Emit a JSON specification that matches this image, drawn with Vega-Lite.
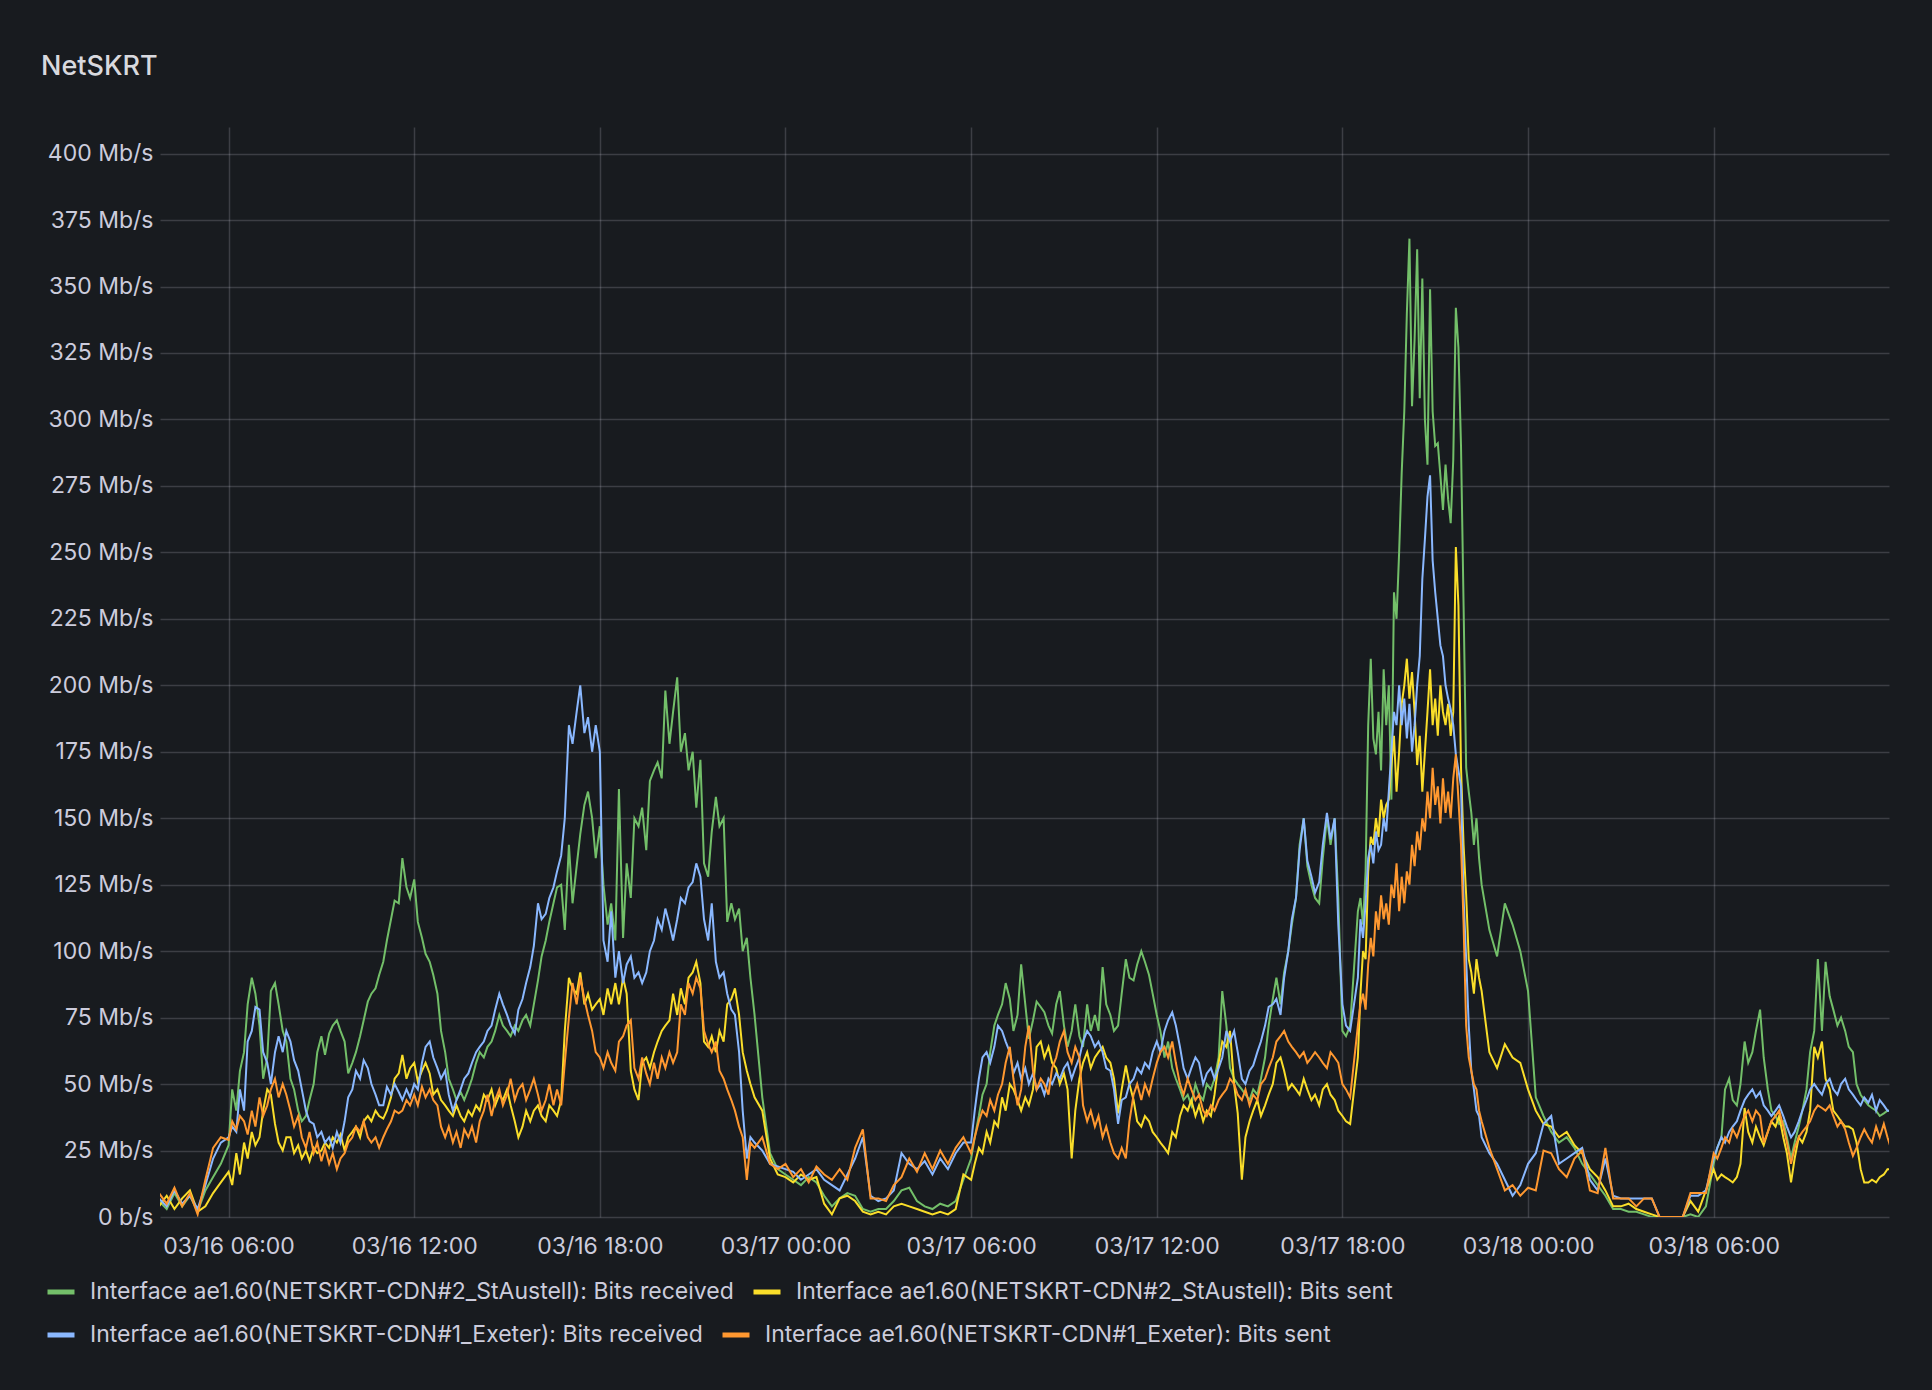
{
  "$schema": "https://vega.github.io/schema/vega-lite/v6.json",
  "description": "NetSKRT interface traffic, Grafana style time series.",
  "autosize": {"type": "none"},
  "padding": {"left": 160, "top": 127, "right": 43, "bottom": 173},
  "width": 1729,
  "height": 1090,
  "background": "#181b1f",
  "title": {
    "text": "NetSKRT",
    "anchor": "start",
    "frame": "group",
    "dx": -119,
    "offset": 25,
    "baseline": "alphabetic",
    "font": "Inter",
    "fontSize": 27,
    "fontWeight": 500,
    "color": "#d8d9de"
  },
  "config": {
    "view": {"stroke": null},
    "axis": {
      "labelFont": "Inter",
      "labelFontSize": 23,
      "labelColor": "#ccccdc",
      "domain": false,
      "ticks": false,
      "tickSize": 0,
      "gridColor": "#ccccdc",
      "gridOpacity": 0.2,
      "gridWidth": 1.5,
      "title": null
    },
    "legend": {
      "orient": "none",
      "direction": "horizontal",
      "columns": 2,
      "title": null,
      "symbolType": "stroke",
      "symbolSize": 729,
      "symbolStrokeWidth": 5,
      "labelFont": "Inter",
      "labelFontSize": 23,
      "labelColor": "#ccccdc",
      "labelLimit": 1000,
      "labelOffset": 13,
      "columnPadding": 9
    }
  },
  "data": {
    "values": [
      {"t": "2024-03-16T03:45", "g": 6, "y": 4, "b": 7, "o": 9},
      {"t": "2024-03-16T04:00", "g": 3, "y": 8, "b": 4, "o": 5},
      {"t": "2024-03-16T04:15", "g": 9, "y": 3, "b": 10, "o": 11},
      {"t": "2024-03-16T04:30", "g": 4, "y": 7, "b": 5, "o": 4},
      {"t": "2024-03-16T04:45", "g": 8, "y": 10, "b": 8, "o": 9},
      {"t": "2024-03-16T05:00", "g": 2, "y": 2, "b": 3, "o": 1},
      {"t": "2024-03-16T05:15", "g": 10, "y": 4, "b": 12, "o": 14},
      {"t": "2024-03-16T05:30", "g": 15, "y": 9, "b": 22, "o": 26},
      {"t": "2024-03-16T05:45", "g": 20, "y": 13, "b": 28, "o": 30},
      {"t": "2024-03-16T06:00", "g": 27, "y": 17, "b": 30, "o": 29},
      {"t": "2024-03-16T06:07", "g": 48, "y": 12, "b": 34, "o": 36},
      {"t": "2024-03-16T06:15", "g": 40, "y": 24, "b": 32, "o": 33},
      {"t": "2024-03-16T06:22", "g": 55, "y": 16, "b": 48, "o": 38},
      {"t": "2024-03-16T06:30", "g": 62, "y": 28, "b": 40, "o": 36},
      {"t": "2024-03-16T06:37", "g": 80, "y": 22, "b": 66, "o": 31},
      {"t": "2024-03-16T06:45", "g": 90, "y": 32, "b": 70, "o": 40},
      {"t": "2024-03-16T06:52", "g": 84, "y": 27, "b": 79, "o": 34},
      {"t": "2024-03-16T07:00", "g": 72, "y": 30, "b": 78, "o": 45},
      {"t": "2024-03-16T07:07", "g": 52, "y": 40, "b": 62, "o": 38},
      {"t": "2024-03-16T07:15", "g": 60, "y": 48, "b": 58, "o": 42},
      {"t": "2024-03-16T07:22", "g": 85, "y": 46, "b": 50, "o": 48},
      {"t": "2024-03-16T07:30", "g": 88, "y": 35, "b": 62, "o": 52},
      {"t": "2024-03-16T07:37", "g": 80, "y": 28, "b": 68, "o": 45},
      {"t": "2024-03-16T07:45", "g": 70, "y": 25, "b": 62, "o": 50},
      {"t": "2024-03-16T07:52", "g": 66, "y": 30, "b": 70, "o": 46},
      {"t": "2024-03-16T08:00", "g": 52, "y": 30, "b": 66, "o": 40},
      {"t": "2024-03-16T08:07", "g": 48, "y": 24, "b": 59, "o": 34},
      {"t": "2024-03-16T08:15", "g": 40, "y": 27, "b": 55, "o": 38},
      {"t": "2024-03-16T08:22", "g": 36, "y": 22, "b": 48, "o": 30},
      {"t": "2024-03-16T08:30", "g": 38, "y": 25, "b": 40, "o": 26},
      {"t": "2024-03-16T08:37", "g": 44, "y": 21, "b": 36, "o": 32},
      {"t": "2024-03-16T08:45", "g": 50, "y": 26, "b": 35, "o": 24},
      {"t": "2024-03-16T08:52", "g": 62, "y": 24, "b": 30, "o": 28},
      {"t": "2024-03-16T09:00", "g": 68, "y": 25, "b": 32, "o": 21},
      {"t": "2024-03-16T09:07", "g": 61, "y": 28, "b": 28, "o": 26},
      {"t": "2024-03-16T09:15", "g": 69, "y": 26, "b": 30, "o": 20},
      {"t": "2024-03-16T09:22", "g": 72, "y": 30, "b": 26, "o": 24},
      {"t": "2024-03-16T09:30", "g": 74, "y": 28, "b": 32, "o": 18},
      {"t": "2024-03-16T09:37", "g": 70, "y": 31, "b": 28, "o": 22},
      {"t": "2024-03-16T09:45", "g": 66, "y": 25, "b": 36, "o": 24},
      {"t": "2024-03-16T09:52", "g": 54, "y": 30, "b": 45, "o": 28},
      {"t": "2024-03-16T10:00", "g": 58, "y": 32, "b": 48, "o": 30},
      {"t": "2024-03-16T10:07", "g": 62, "y": 34, "b": 55, "o": 34},
      {"t": "2024-03-16T10:15", "g": 68, "y": 30, "b": 52, "o": 32},
      {"t": "2024-03-16T10:22", "g": 74, "y": 36, "b": 59, "o": 36},
      {"t": "2024-03-16T10:30", "g": 81, "y": 38, "b": 56, "o": 30},
      {"t": "2024-03-16T10:37", "g": 84, "y": 36, "b": 50, "o": 28},
      {"t": "2024-03-16T10:45", "g": 86, "y": 40, "b": 46, "o": 30},
      {"t": "2024-03-16T10:52", "g": 91, "y": 38, "b": 42, "o": 26},
      {"t": "2024-03-16T11:00", "g": 96, "y": 37, "b": 42, "o": 30},
      {"t": "2024-03-16T11:07", "g": 104, "y": 40, "b": 49, "o": 33},
      {"t": "2024-03-16T11:15", "g": 112, "y": 45, "b": 46, "o": 36},
      {"t": "2024-03-16T11:22", "g": 119, "y": 52, "b": 50, "o": 40},
      {"t": "2024-03-16T11:30", "g": 118, "y": 54, "b": 47, "o": 39},
      {"t": "2024-03-16T11:37", "g": 135, "y": 61, "b": 44, "o": 40},
      {"t": "2024-03-16T11:45", "g": 124, "y": 52, "b": 48, "o": 44},
      {"t": "2024-03-16T11:52", "g": 120, "y": 56, "b": 45, "o": 42},
      {"t": "2024-03-16T12:00", "g": 127, "y": 58, "b": 50, "o": 46},
      {"t": "2024-03-16T12:07", "g": 111, "y": 51, "b": 48, "o": 42},
      {"t": "2024-03-16T12:15", "g": 105, "y": 55, "b": 58, "o": 49},
      {"t": "2024-03-16T12:22", "g": 99, "y": 58, "b": 64, "o": 45},
      {"t": "2024-03-16T12:30", "g": 96, "y": 54, "b": 66, "o": 48},
      {"t": "2024-03-16T12:37", "g": 91, "y": 46, "b": 60, "o": 44},
      {"t": "2024-03-16T12:45", "g": 84, "y": 48, "b": 56, "o": 42},
      {"t": "2024-03-16T12:52", "g": 70, "y": 44, "b": 52, "o": 34},
      {"t": "2024-03-16T13:00", "g": 62, "y": 42, "b": 55, "o": 30},
      {"t": "2024-03-16T13:07", "g": 52, "y": 40, "b": 46, "o": 34},
      {"t": "2024-03-16T13:15", "g": 48, "y": 38, "b": 40, "o": 28},
      {"t": "2024-03-16T13:22", "g": 44, "y": 42, "b": 44, "o": 32},
      {"t": "2024-03-16T13:30", "g": 47, "y": 38, "b": 48, "o": 26},
      {"t": "2024-03-16T13:37", "g": 44, "y": 36, "b": 52, "o": 33},
      {"t": "2024-03-16T13:45", "g": 48, "y": 40, "b": 54, "o": 30},
      {"t": "2024-03-16T13:52", "g": 52, "y": 38, "b": 58, "o": 34},
      {"t": "2024-03-16T14:00", "g": 58, "y": 42, "b": 62, "o": 28},
      {"t": "2024-03-16T14:07", "g": 62, "y": 40, "b": 64, "o": 36},
      {"t": "2024-03-16T14:15", "g": 60, "y": 46, "b": 66, "o": 40},
      {"t": "2024-03-16T14:22", "g": 64, "y": 44, "b": 70, "o": 46},
      {"t": "2024-03-16T14:30", "g": 66, "y": 48, "b": 72, "o": 38},
      {"t": "2024-03-16T14:37", "g": 70, "y": 42, "b": 78, "o": 44},
      {"t": "2024-03-16T14:45", "g": 76, "y": 46, "b": 84, "o": 48},
      {"t": "2024-03-16T14:52", "g": 72, "y": 44, "b": 80, "o": 42},
      {"t": "2024-03-16T15:00", "g": 70, "y": 48, "b": 76, "o": 46},
      {"t": "2024-03-16T15:07", "g": 68, "y": 42, "b": 72, "o": 52},
      {"t": "2024-03-16T15:15", "g": 72, "y": 36, "b": 69, "o": 44},
      {"t": "2024-03-16T15:22", "g": 70, "y": 30, "b": 78, "o": 48},
      {"t": "2024-03-16T15:30", "g": 74, "y": 34, "b": 82, "o": 50},
      {"t": "2024-03-16T15:37", "g": 76, "y": 40, "b": 88, "o": 44},
      {"t": "2024-03-16T15:45", "g": 72, "y": 36, "b": 94, "o": 48},
      {"t": "2024-03-16T15:52", "g": 80, "y": 40, "b": 102, "o": 52},
      {"t": "2024-03-16T16:00", "g": 89, "y": 42, "b": 118, "o": 46},
      {"t": "2024-03-16T16:07", "g": 98, "y": 38, "b": 112, "o": 40},
      {"t": "2024-03-16T16:15", "g": 104, "y": 36, "b": 114, "o": 44},
      {"t": "2024-03-16T16:22", "g": 111, "y": 42, "b": 120, "o": 50},
      {"t": "2024-03-16T16:30", "g": 118, "y": 40, "b": 124, "o": 42},
      {"t": "2024-03-16T16:37", "g": 124, "y": 38, "b": 130, "o": 48},
      {"t": "2024-03-16T16:45", "g": 125, "y": 44, "b": 136, "o": 42},
      {"t": "2024-03-16T16:52", "g": 108, "y": 70, "b": 150, "o": 58},
      {"t": "2024-03-16T17:00", "g": 140, "y": 90, "b": 185, "o": 75},
      {"t": "2024-03-16T17:07", "g": 118, "y": 86, "b": 178, "o": 88},
      {"t": "2024-03-16T17:15", "g": 132, "y": 84, "b": 190, "o": 80},
      {"t": "2024-03-16T17:22", "g": 144, "y": 92, "b": 200, "o": 90},
      {"t": "2024-03-16T17:30", "g": 155, "y": 80, "b": 182, "o": 82},
      {"t": "2024-03-16T17:37", "g": 160, "y": 84, "b": 188, "o": 76},
      {"t": "2024-03-16T17:45", "g": 150, "y": 78, "b": 175, "o": 70},
      {"t": "2024-03-16T17:52", "g": 135, "y": 80, "b": 185, "o": 62},
      {"t": "2024-03-16T18:00", "g": 147, "y": 82, "b": 175, "o": 60},
      {"t": "2024-03-16T18:07", "g": 125, "y": 76, "b": 104, "o": 56},
      {"t": "2024-03-16T18:15", "g": 110, "y": 86, "b": 96, "o": 62},
      {"t": "2024-03-16T18:22", "g": 118, "y": 80, "b": 115, "o": 58},
      {"t": "2024-03-16T18:30", "g": 104, "y": 88, "b": 90, "o": 55},
      {"t": "2024-03-16T18:37", "g": 161, "y": 80, "b": 100, "o": 66},
      {"t": "2024-03-16T18:45", "g": 105, "y": 90, "b": 88, "o": 68},
      {"t": "2024-03-16T18:52", "g": 133, "y": 84, "b": 95, "o": 72},
      {"t": "2024-03-16T19:00", "g": 120, "y": 55, "b": 98, "o": 74},
      {"t": "2024-03-16T19:07", "g": 150, "y": 48, "b": 90, "o": 56},
      {"t": "2024-03-16T19:15", "g": 147, "y": 44, "b": 92, "o": 52},
      {"t": "2024-03-16T19:22", "g": 154, "y": 58, "b": 88, "o": 60},
      {"t": "2024-03-16T19:30", "g": 138, "y": 60, "b": 92, "o": 54},
      {"t": "2024-03-16T19:37", "g": 164, "y": 56, "b": 100, "o": 50},
      {"t": "2024-03-16T19:45", "g": 168, "y": 62, "b": 104, "o": 58},
      {"t": "2024-03-16T19:52", "g": 171, "y": 66, "b": 112, "o": 52},
      {"t": "2024-03-16T20:00", "g": 165, "y": 70, "b": 108, "o": 60},
      {"t": "2024-03-16T20:07", "g": 198, "y": 72, "b": 116, "o": 56},
      {"t": "2024-03-16T20:15", "g": 178, "y": 74, "b": 110, "o": 62},
      {"t": "2024-03-16T20:22", "g": 190, "y": 84, "b": 104, "o": 58},
      {"t": "2024-03-16T20:30", "g": 203, "y": 76, "b": 112, "o": 62},
      {"t": "2024-03-16T20:37", "g": 175, "y": 86, "b": 120, "o": 80},
      {"t": "2024-03-16T20:45", "g": 182, "y": 80, "b": 118, "o": 76},
      {"t": "2024-03-16T20:52", "g": 168, "y": 90, "b": 124, "o": 88},
      {"t": "2024-03-16T21:00", "g": 175, "y": 92, "b": 126, "o": 84},
      {"t": "2024-03-16T21:07", "g": 154, "y": 96, "b": 133, "o": 90},
      {"t": "2024-03-16T21:15", "g": 172, "y": 88, "b": 128, "o": 86},
      {"t": "2024-03-16T21:22", "g": 133, "y": 66, "b": 112, "o": 70},
      {"t": "2024-03-16T21:30", "g": 128, "y": 64, "b": 104, "o": 65},
      {"t": "2024-03-16T21:37", "g": 145, "y": 68, "b": 118, "o": 62},
      {"t": "2024-03-16T21:45", "g": 158, "y": 62, "b": 96, "o": 66},
      {"t": "2024-03-16T21:52", "g": 147, "y": 70, "b": 90, "o": 55},
      {"t": "2024-03-16T22:00", "g": 150, "y": 66, "b": 92, "o": 52},
      {"t": "2024-03-16T22:07", "g": 111, "y": 80, "b": 84, "o": 48},
      {"t": "2024-03-16T22:15", "g": 118, "y": 82, "b": 78, "o": 44},
      {"t": "2024-03-16T22:22", "g": 112, "y": 86, "b": 76, "o": 40},
      {"t": "2024-03-16T22:30", "g": 116, "y": 76, "b": 62, "o": 34},
      {"t": "2024-03-16T22:37", "g": 100, "y": 62, "b": 40, "o": 30},
      {"t": "2024-03-16T22:45", "g": 105, "y": 55, "b": 22, "o": 14},
      {"t": "2024-03-16T22:52", "g": 90, "y": 50, "b": 30, "o": 28},
      {"t": "2024-03-16T23:00", "g": 76, "y": 45, "b": 28, "o": 26},
      {"t": "2024-03-16T23:15", "g": 45, "y": 40, "b": 25, "o": 30},
      {"t": "2024-03-16T23:30", "g": 24, "y": 22, "b": 20, "o": 20},
      {"t": "2024-03-16T23:45", "g": 18, "y": 16, "b": 19, "o": 18},
      {"t": "2024-03-17T00:00", "g": 16, "y": 15, "b": 18, "o": 20},
      {"t": "2024-03-17T00:15", "g": 14, "y": 13, "b": 17, "o": 15},
      {"t": "2024-03-17T00:30", "g": 12, "y": 16, "b": 14, "o": 18},
      {"t": "2024-03-17T00:45", "g": 15, "y": 14, "b": 16, "o": 13},
      {"t": "2024-03-17T01:00", "g": 13, "y": 15, "b": 18, "o": 19},
      {"t": "2024-03-17T01:15", "g": 8, "y": 5, "b": 14, "o": 16},
      {"t": "2024-03-17T01:30", "g": 4, "y": 1, "b": 12, "o": 14},
      {"t": "2024-03-17T01:45", "g": 7, "y": 7, "b": 10, "o": 18},
      {"t": "2024-03-17T02:00", "g": 9, "y": 8, "b": 16, "o": 14},
      {"t": "2024-03-17T02:15", "g": 8, "y": 6, "b": 22, "o": 26},
      {"t": "2024-03-17T02:30", "g": 3, "y": 2, "b": 30, "o": 33},
      {"t": "2024-03-17T02:45", "g": 2, "y": 1, "b": 8, "o": 7},
      {"t": "2024-03-17T03:00", "g": 3, "y": 2, "b": 6, "o": 7},
      {"t": "2024-03-17T03:15", "g": 3, "y": 1, "b": 7, "o": 6},
      {"t": "2024-03-17T03:30", "g": 6, "y": 4, "b": 10, "o": 12},
      {"t": "2024-03-17T03:45", "g": 10, "y": 5, "b": 24, "o": 15},
      {"t": "2024-03-17T04:00", "g": 11, "y": 4, "b": 20, "o": 22},
      {"t": "2024-03-17T04:15", "g": 6, "y": 3, "b": 18, "o": 17},
      {"t": "2024-03-17T04:30", "g": 4, "y": 2, "b": 21, "o": 24},
      {"t": "2024-03-17T04:45", "g": 3, "y": 1, "b": 16, "o": 18},
      {"t": "2024-03-17T05:00", "g": 5, "y": 2, "b": 22, "o": 25},
      {"t": "2024-03-17T05:15", "g": 4, "y": 1, "b": 18, "o": 20},
      {"t": "2024-03-17T05:30", "g": 6, "y": 3, "b": 24, "o": 26},
      {"t": "2024-03-17T05:45", "g": 14, "y": 16, "b": 28, "o": 30},
      {"t": "2024-03-17T06:00", "g": 22, "y": 14, "b": 28, "o": 24},
      {"t": "2024-03-17T06:07", "g": 30, "y": 20, "b": 40, "o": 30},
      {"t": "2024-03-17T06:15", "g": 38, "y": 26, "b": 52, "o": 36},
      {"t": "2024-03-17T06:22", "g": 46, "y": 24, "b": 60, "o": 40},
      {"t": "2024-03-17T06:30", "g": 50, "y": 32, "b": 62, "o": 38},
      {"t": "2024-03-17T06:37", "g": 62, "y": 28, "b": 58, "o": 44},
      {"t": "2024-03-17T06:45", "g": 72, "y": 36, "b": 64, "o": 40},
      {"t": "2024-03-17T06:52", "g": 76, "y": 34, "b": 72, "o": 46},
      {"t": "2024-03-17T07:00", "g": 80, "y": 45, "b": 70, "o": 50},
      {"t": "2024-03-17T07:07", "g": 88, "y": 40, "b": 66, "o": 58},
      {"t": "2024-03-17T07:15", "g": 82, "y": 50, "b": 62, "o": 64},
      {"t": "2024-03-17T07:22", "g": 70, "y": 48, "b": 54, "o": 52},
      {"t": "2024-03-17T07:30", "g": 76, "y": 44, "b": 58, "o": 42},
      {"t": "2024-03-17T07:37", "g": 95, "y": 40, "b": 52, "o": 48},
      {"t": "2024-03-17T07:45", "g": 80, "y": 45, "b": 56, "o": 64},
      {"t": "2024-03-17T07:52", "g": 67, "y": 42, "b": 50, "o": 72},
      {"t": "2024-03-17T08:00", "g": 74, "y": 48, "b": 54, "o": 55},
      {"t": "2024-03-17T08:07", "g": 81, "y": 64, "b": 48, "o": 48},
      {"t": "2024-03-17T08:15", "g": 79, "y": 66, "b": 50, "o": 52},
      {"t": "2024-03-17T08:22", "g": 77, "y": 60, "b": 46, "o": 50},
      {"t": "2024-03-17T08:30", "g": 72, "y": 64, "b": 52, "o": 46},
      {"t": "2024-03-17T08:37", "g": 69, "y": 58, "b": 50, "o": 56},
      {"t": "2024-03-17T08:45", "g": 80, "y": 56, "b": 54, "o": 60},
      {"t": "2024-03-17T08:52", "g": 85, "y": 50, "b": 52, "o": 66},
      {"t": "2024-03-17T09:00", "g": 72, "y": 54, "b": 56, "o": 70},
      {"t": "2024-03-17T09:07", "g": 64, "y": 48, "b": 58, "o": 62},
      {"t": "2024-03-17T09:15", "g": 70, "y": 22, "b": 52, "o": 58},
      {"t": "2024-03-17T09:22", "g": 80, "y": 40, "b": 56, "o": 64},
      {"t": "2024-03-17T09:30", "g": 68, "y": 52, "b": 60, "o": 60},
      {"t": "2024-03-17T09:37", "g": 64, "y": 58, "b": 66, "o": 42},
      {"t": "2024-03-17T09:45", "g": 80, "y": 62, "b": 70, "o": 36},
      {"t": "2024-03-17T09:52", "g": 70, "y": 56, "b": 68, "o": 40},
      {"t": "2024-03-17T10:00", "g": 76, "y": 60, "b": 64, "o": 34},
      {"t": "2024-03-17T10:07", "g": 70, "y": 62, "b": 66, "o": 38},
      {"t": "2024-03-17T10:15", "g": 94, "y": 64, "b": 62, "o": 30},
      {"t": "2024-03-17T10:22", "g": 80, "y": 60, "b": 56, "o": 34},
      {"t": "2024-03-17T10:30", "g": 76, "y": 58, "b": 55, "o": 28},
      {"t": "2024-03-17T10:37", "g": 70, "y": 52, "b": 48, "o": 24},
      {"t": "2024-03-17T10:45", "g": 72, "y": 39, "b": 35, "o": 22},
      {"t": "2024-03-17T10:52", "g": 84, "y": 48, "b": 44, "o": 26},
      {"t": "2024-03-17T11:00", "g": 97, "y": 57, "b": 45, "o": 22},
      {"t": "2024-03-17T11:07", "g": 90, "y": 50, "b": 50, "o": 36},
      {"t": "2024-03-17T11:15", "g": 89, "y": 44, "b": 52, "o": 46},
      {"t": "2024-03-17T11:22", "g": 95, "y": 36, "b": 56, "o": 50},
      {"t": "2024-03-17T11:30", "g": 100, "y": 34, "b": 54, "o": 44},
      {"t": "2024-03-17T11:37", "g": 96, "y": 38, "b": 58, "o": 50},
      {"t": "2024-03-17T11:45", "g": 91, "y": 36, "b": 56, "o": 46},
      {"t": "2024-03-17T11:52", "g": 84, "y": 32, "b": 62, "o": 52},
      {"t": "2024-03-17T12:00", "g": 76, "y": 30, "b": 66, "o": 58},
      {"t": "2024-03-17T12:07", "g": 70, "y": 28, "b": 62, "o": 62},
      {"t": "2024-03-17T12:15", "g": 60, "y": 26, "b": 70, "o": 64},
      {"t": "2024-03-17T12:22", "g": 66, "y": 24, "b": 74, "o": 60},
      {"t": "2024-03-17T12:30", "g": 56, "y": 32, "b": 77, "o": 66},
      {"t": "2024-03-17T12:37", "g": 52, "y": 30, "b": 72, "o": 58},
      {"t": "2024-03-17T12:45", "g": 48, "y": 38, "b": 64, "o": 50},
      {"t": "2024-03-17T12:52", "g": 44, "y": 42, "b": 56, "o": 46},
      {"t": "2024-03-17T13:00", "g": 46, "y": 40, "b": 52, "o": 52},
      {"t": "2024-03-17T13:07", "g": 42, "y": 44, "b": 56, "o": 48},
      {"t": "2024-03-17T13:15", "g": 50, "y": 38, "b": 60, "o": 44},
      {"t": "2024-03-17T13:22", "g": 46, "y": 42, "b": 58, "o": 46},
      {"t": "2024-03-17T13:30", "g": 44, "y": 36, "b": 50, "o": 40},
      {"t": "2024-03-17T13:37", "g": 50, "y": 40, "b": 54, "o": 38},
      {"t": "2024-03-17T13:45", "g": 48, "y": 38, "b": 56, "o": 42},
      {"t": "2024-03-17T13:52", "g": 52, "y": 46, "b": 52, "o": 40},
      {"t": "2024-03-17T14:00", "g": 60, "y": 58, "b": 56, "o": 44},
      {"t": "2024-03-17T14:07", "g": 85, "y": 66, "b": 60, "o": 46},
      {"t": "2024-03-17T14:15", "g": 72, "y": 64, "b": 70, "o": 48},
      {"t": "2024-03-17T14:22", "g": 56, "y": 70, "b": 66, "o": 52},
      {"t": "2024-03-17T14:30", "g": 52, "y": 50, "b": 70, "o": 50},
      {"t": "2024-03-17T14:37", "g": 50, "y": 39, "b": 62, "o": 46},
      {"t": "2024-03-17T14:45", "g": 48, "y": 14, "b": 52, "o": 44},
      {"t": "2024-03-17T14:52", "g": 46, "y": 30, "b": 50, "o": 48},
      {"t": "2024-03-17T15:00", "g": 44, "y": 36, "b": 55, "o": 42},
      {"t": "2024-03-17T15:07", "g": 48, "y": 40, "b": 57, "o": 46},
      {"t": "2024-03-17T15:15", "g": 46, "y": 44, "b": 62, "o": 44},
      {"t": "2024-03-17T15:22", "g": 52, "y": 38, "b": 66, "o": 50},
      {"t": "2024-03-17T15:30", "g": 60, "y": 42, "b": 72, "o": 52},
      {"t": "2024-03-17T15:37", "g": 72, "y": 46, "b": 79, "o": 56},
      {"t": "2024-03-17T15:45", "g": 82, "y": 50, "b": 80, "o": 60},
      {"t": "2024-03-17T15:52", "g": 90, "y": 58, "b": 82, "o": 66},
      {"t": "2024-03-17T16:00", "g": 80, "y": 60, "b": 76, "o": 68},
      {"t": "2024-03-17T16:07", "g": 92, "y": 55, "b": 90, "o": 70},
      {"t": "2024-03-17T16:15", "g": 100, "y": 48, "b": 100, "o": 66},
      {"t": "2024-03-17T16:22", "g": 110, "y": 50, "b": 112, "o": 64},
      {"t": "2024-03-17T16:30", "g": 120, "y": 48, "b": 120, "o": 62},
      {"t": "2024-03-17T16:37", "g": 140, "y": 46, "b": 138, "o": 60},
      {"t": "2024-03-17T16:45", "g": 150, "y": 52, "b": 150, "o": 62},
      {"t": "2024-03-17T16:52", "g": 132, "y": 48, "b": 134, "o": 58},
      {"t": "2024-03-17T17:00", "g": 125, "y": 44, "b": 128, "o": 60},
      {"t": "2024-03-17T17:07", "g": 120, "y": 46, "b": 122, "o": 62},
      {"t": "2024-03-17T17:15", "g": 118, "y": 42, "b": 126, "o": 60},
      {"t": "2024-03-17T17:22", "g": 135, "y": 48, "b": 140, "o": 58},
      {"t": "2024-03-17T17:30", "g": 150, "y": 50, "b": 152, "o": 56},
      {"t": "2024-03-17T17:37", "g": 140, "y": 46, "b": 142, "o": 62},
      {"t": "2024-03-17T17:45", "g": 150, "y": 44, "b": 150, "o": 60},
      {"t": "2024-03-17T17:52", "g": 120, "y": 40, "b": 110, "o": 58},
      {"t": "2024-03-17T18:00", "g": 70, "y": 38, "b": 80, "o": 50},
      {"t": "2024-03-17T18:07", "g": 68, "y": 36, "b": 72, "o": 48},
      {"t": "2024-03-17T18:15", "g": 72, "y": 35, "b": 70, "o": 45},
      {"t": "2024-03-17T18:30", "g": 115, "y": 60, "b": 90, "o": 72},
      {"t": "2024-03-17T18:35", "g": 120, "y": 84, "b": 112, "o": 80},
      {"t": "2024-03-17T18:40", "g": 110, "y": 100, "b": 105, "o": 84},
      {"t": "2024-03-17T18:45", "g": 130, "y": 97, "b": 118, "o": 78},
      {"t": "2024-03-17T18:50", "g": 185, "y": 130, "b": 135, "o": 95},
      {"t": "2024-03-17T18:55", "g": 210, "y": 143, "b": 140, "o": 105},
      {"t": "2024-03-17T19:00", "g": 180, "y": 140, "b": 133, "o": 98},
      {"t": "2024-03-17T19:05", "g": 174, "y": 150, "b": 145, "o": 115},
      {"t": "2024-03-17T19:10", "g": 190, "y": 143, "b": 138, "o": 108},
      {"t": "2024-03-17T19:15", "g": 168, "y": 157, "b": 140, "o": 121},
      {"t": "2024-03-17T19:20", "g": 206, "y": 150, "b": 150, "o": 112},
      {"t": "2024-03-17T19:25", "g": 185, "y": 155, "b": 145, "o": 118},
      {"t": "2024-03-17T19:30", "g": 200, "y": 157, "b": 160, "o": 110},
      {"t": "2024-03-17T19:35", "g": 157, "y": 170, "b": 175, "o": 125},
      {"t": "2024-03-17T19:40", "g": 235, "y": 181, "b": 190, "o": 120},
      {"t": "2024-03-17T19:45", "g": 225, "y": 160, "b": 185, "o": 133},
      {"t": "2024-03-17T19:50", "g": 250, "y": 175, "b": 200, "o": 115},
      {"t": "2024-03-17T19:55", "g": 280, "y": 193, "b": 185, "o": 128},
      {"t": "2024-03-17T20:00", "g": 303, "y": 200, "b": 195, "o": 118},
      {"t": "2024-03-17T20:05", "g": 340, "y": 210, "b": 180, "o": 130},
      {"t": "2024-03-17T20:10", "g": 368, "y": 195, "b": 193, "o": 125},
      {"t": "2024-03-17T20:15", "g": 305, "y": 205, "b": 175, "o": 140},
      {"t": "2024-03-17T20:20", "g": 330, "y": 190, "b": 185, "o": 132},
      {"t": "2024-03-17T20:25", "g": 364, "y": 170, "b": 200, "o": 145},
      {"t": "2024-03-17T20:30", "g": 308, "y": 181, "b": 211, "o": 138},
      {"t": "2024-03-17T20:35", "g": 353, "y": 160, "b": 240, "o": 150},
      {"t": "2024-03-17T20:40", "g": 300, "y": 175, "b": 255, "o": 145},
      {"t": "2024-03-17T20:45", "g": 283, "y": 190, "b": 271, "o": 160},
      {"t": "2024-03-17T20:50", "g": 349, "y": 206, "b": 279, "o": 150},
      {"t": "2024-03-17T20:55", "g": 303, "y": 185, "b": 247, "o": 169},
      {"t": "2024-03-17T21:00", "g": 290, "y": 195, "b": 235, "o": 155},
      {"t": "2024-03-17T21:05", "g": 291, "y": 181, "b": 225, "o": 162},
      {"t": "2024-03-17T21:10", "g": 279, "y": 200, "b": 215, "o": 148},
      {"t": "2024-03-17T21:15", "g": 266, "y": 190, "b": 211, "o": 165},
      {"t": "2024-03-17T21:20", "g": 283, "y": 185, "b": 200, "o": 152},
      {"t": "2024-03-17T21:25", "g": 270, "y": 193, "b": 195, "o": 160},
      {"t": "2024-03-17T21:30", "g": 261, "y": 181, "b": 191, "o": 150},
      {"t": "2024-03-17T21:35", "g": 285, "y": 190, "b": 185, "o": 165},
      {"t": "2024-03-17T21:40", "g": 342, "y": 252, "b": 174, "o": 174},
      {"t": "2024-03-17T21:45", "g": 327, "y": 230, "b": 168, "o": 157},
      {"t": "2024-03-17T21:50", "g": 290, "y": 169, "b": 162, "o": 140},
      {"t": "2024-03-17T21:55", "g": 230, "y": 140, "b": 120, "o": 110},
      {"t": "2024-03-17T22:00", "g": 169, "y": 121, "b": 97, "o": 72},
      {"t": "2024-03-17T22:05", "g": 160, "y": 97, "b": 72, "o": 60},
      {"t": "2024-03-17T22:10", "g": 152, "y": 92, "b": 55, "o": 55},
      {"t": "2024-03-17T22:15", "g": 140, "y": 84, "b": 48, "o": 50},
      {"t": "2024-03-17T22:20", "g": 150, "y": 97, "b": 40, "o": 48},
      {"t": "2024-03-17T22:25", "g": 135, "y": 90, "b": 38, "o": 40},
      {"t": "2024-03-17T22:30", "g": 125, "y": 85, "b": 30, "o": 36},
      {"t": "2024-03-17T22:45", "g": 108, "y": 62, "b": 24, "o": 26},
      {"t": "2024-03-17T23:00", "g": 98, "y": 56, "b": 20, "o": 18},
      {"t": "2024-03-17T23:15", "g": 118, "y": 65, "b": 14, "o": 10},
      {"t": "2024-03-17T23:30", "g": 110, "y": 60, "b": 8, "o": 12},
      {"t": "2024-03-17T23:45", "g": 100, "y": 58, "b": 12, "o": 8},
      {"t": "2024-03-18T00:00", "g": 85, "y": 48, "b": 20, "o": 11},
      {"t": "2024-03-18T00:15", "g": 45, "y": 40, "b": 24, "o": 10},
      {"t": "2024-03-18T00:30", "g": 38, "y": 35, "b": 35, "o": 25},
      {"t": "2024-03-18T00:45", "g": 32, "y": 34, "b": 38, "o": 24},
      {"t": "2024-03-18T01:00", "g": 28, "y": 30, "b": 20, "o": 18},
      {"t": "2024-03-18T01:15", "g": 30, "y": 32, "b": 22, "o": 15},
      {"t": "2024-03-18T01:30", "g": 26, "y": 27, "b": 24, "o": 22},
      {"t": "2024-03-18T01:45", "g": 20, "y": 24, "b": 26, "o": 25},
      {"t": "2024-03-18T02:00", "g": 16, "y": 18, "b": 14, "o": 10},
      {"t": "2024-03-18T02:15", "g": 12, "y": 15, "b": 10, "o": 9},
      {"t": "2024-03-18T02:30", "g": 8, "y": 10, "b": 22, "o": 26},
      {"t": "2024-03-18T02:45", "g": 3, "y": 4, "b": 8, "o": 7},
      {"t": "2024-03-18T03:00", "g": 3, "y": 4, "b": 7, "o": 7},
      {"t": "2024-03-18T03:15", "g": 2, "y": 5, "b": 7, "o": 7},
      {"t": "2024-03-18T03:30", "g": 2, "y": 3, "b": 7, "o": 4},
      {"t": "2024-03-18T03:45", "g": 1, "y": 2, "b": 7, "o": 7},
      {"t": "2024-03-18T04:00", "g": 0, "y": 1, "b": 7, "o": 7},
      {"t": "2024-03-18T04:15", "g": 0, "y": 0, "b": 0, "o": 0},
      {"t": "2024-03-18T04:30", "g": 0, "y": 0, "b": 0, "o": 0},
      {"t": "2024-03-18T04:45", "g": 0, "y": 0, "b": 0, "o": 0},
      {"t": "2024-03-18T05:00", "g": 0, "y": 0, "b": 0, "o": 0},
      {"t": "2024-03-18T05:15", "g": 1, "y": 6, "b": 8, "o": 9},
      {"t": "2024-03-18T05:30", "g": 0, "y": 2, "b": 8, "o": 9},
      {"t": "2024-03-18T05:45", "g": 4, "y": 10, "b": 10, "o": 9},
      {"t": "2024-03-18T06:00", "g": 20, "y": 18, "b": 22, "o": 24},
      {"t": "2024-03-18T06:07", "g": 26, "y": 14, "b": 26, "o": 22},
      {"t": "2024-03-18T06:15", "g": 30, "y": 16, "b": 30, "o": 26},
      {"t": "2024-03-18T06:22", "g": 48, "y": 15, "b": 28, "o": 30},
      {"t": "2024-03-18T06:30", "g": 52, "y": 14, "b": 32, "o": 28},
      {"t": "2024-03-18T06:37", "g": 44, "y": 13, "b": 34, "o": 33},
      {"t": "2024-03-18T06:45", "g": 42, "y": 15, "b": 36, "o": 30},
      {"t": "2024-03-18T06:52", "g": 50, "y": 20, "b": 40, "o": 34},
      {"t": "2024-03-18T07:00", "g": 66, "y": 41, "b": 44, "o": 38},
      {"t": "2024-03-18T07:07", "g": 58, "y": 32, "b": 46, "o": 40},
      {"t": "2024-03-18T07:15", "g": 62, "y": 28, "b": 48, "o": 36},
      {"t": "2024-03-18T07:22", "g": 70, "y": 34, "b": 45, "o": 40},
      {"t": "2024-03-18T07:30", "g": 78, "y": 30, "b": 47, "o": 38},
      {"t": "2024-03-18T07:37", "g": 60, "y": 27, "b": 42, "o": 28},
      {"t": "2024-03-18T07:45", "g": 48, "y": 32, "b": 40, "o": 32},
      {"t": "2024-03-18T07:52", "g": 40, "y": 36, "b": 38, "o": 36},
      {"t": "2024-03-18T08:00", "g": 38, "y": 34, "b": 40, "o": 38},
      {"t": "2024-03-18T08:07", "g": 35, "y": 38, "b": 42, "o": 40},
      {"t": "2024-03-18T08:15", "g": 36, "y": 30, "b": 38, "o": 34},
      {"t": "2024-03-18T08:22", "g": 30, "y": 24, "b": 34, "o": 28},
      {"t": "2024-03-18T08:30", "g": 22, "y": 13, "b": 30, "o": 20},
      {"t": "2024-03-18T08:37", "g": 28, "y": 22, "b": 32, "o": 26},
      {"t": "2024-03-18T08:45", "g": 34, "y": 30, "b": 36, "o": 30},
      {"t": "2024-03-18T08:52", "g": 40, "y": 28, "b": 40, "o": 32},
      {"t": "2024-03-18T09:00", "g": 48, "y": 32, "b": 44, "o": 34},
      {"t": "2024-03-18T09:07", "g": 62, "y": 40, "b": 48, "o": 36},
      {"t": "2024-03-18T09:15", "g": 70, "y": 64, "b": 50, "o": 40},
      {"t": "2024-03-18T09:22", "g": 97, "y": 60, "b": 48, "o": 42},
      {"t": "2024-03-18T09:30", "g": 70, "y": 66, "b": 46, "o": 41},
      {"t": "2024-03-18T09:37", "g": 96, "y": 52, "b": 50, "o": 40},
      {"t": "2024-03-18T09:45", "g": 83, "y": 48, "b": 52, "o": 42},
      {"t": "2024-03-18T09:52", "g": 78, "y": 40, "b": 48, "o": 38},
      {"t": "2024-03-18T10:00", "g": 72, "y": 38, "b": 46, "o": 34},
      {"t": "2024-03-18T10:07", "g": 75, "y": 36, "b": 50, "o": 36},
      {"t": "2024-03-18T10:15", "g": 70, "y": 34, "b": 52, "o": 33},
      {"t": "2024-03-18T10:22", "g": 64, "y": 34, "b": 48, "o": 28},
      {"t": "2024-03-18T10:30", "g": 62, "y": 33, "b": 46, "o": 23},
      {"t": "2024-03-18T10:37", "g": 50, "y": 28, "b": 44, "o": 26},
      {"t": "2024-03-18T10:45", "g": 46, "y": 18, "b": 42, "o": 30},
      {"t": "2024-03-18T10:52", "g": 44, "y": 13, "b": 45, "o": 33},
      {"t": "2024-03-18T11:00", "g": 42, "y": 13, "b": 43, "o": 30},
      {"t": "2024-03-18T11:07", "g": 41, "y": 14, "b": 46, "o": 28},
      {"t": "2024-03-18T11:15", "g": 40, "y": 13, "b": 40, "o": 34},
      {"t": "2024-03-18T11:22", "g": 38, "y": 15, "b": 44, "o": 30},
      {"t": "2024-03-18T11:30", "g": 39, "y": 16, "b": 42, "o": 35},
      {"t": "2024-03-18T11:37", "g": 40, "y": 18, "b": 40, "o": 30},
      {"t": "2024-03-18T11:45", "g": 40, "y": 18, "b": 40, "o": 25}
    ]
  },
  "transform": [
    {"fold": ["g", "y", "b", "o"], "as": ["series", "mbps"]}
  ],
  "encoding": {
    "x": {
      "field": "t",
      "type": "temporal",
      "scale": {
        "domain": [
          {"year": 2024, "month": 3, "date": 16, "hours": 3, "minutes": 47},
          {"year": 2024, "month": 3, "date": 18, "hours": 11, "minutes": 40}
        ]
      },
      "axis": {
        "format": "%m/%d %H:%M",
        "values": [
          {"year": 2024, "month": 3, "date": 16, "hours": 6},
          {"year": 2024, "month": 3, "date": 16, "hours": 12},
          {"year": 2024, "month": 3, "date": 16, "hours": 18},
          {"year": 2024, "month": 3, "date": 17, "hours": 0},
          {"year": 2024, "month": 3, "date": 17, "hours": 6},
          {"year": 2024, "month": 3, "date": 17, "hours": 12},
          {"year": 2024, "month": 3, "date": 17, "hours": 18},
          {"year": 2024, "month": 3, "date": 18, "hours": 0},
          {"year": 2024, "month": 3, "date": 18, "hours": 6}
        ],
        "labelPadding": 18
      }
    },
    "y": {
      "field": "mbps",
      "type": "quantitative",
      "scale": {"domain": [0, 410], "nice": false},
      "axis": {
        "values": [0, 25, 50, 75, 100, 125, 150, 175, 200, 225, 250, 275, 300, 325, 350, 375, 400],
        "labelExpr": "datum.value == 0 ? '0 b/s' : datum.value + ' Mb/s'",
        "labelPadding": 7
      }
    }
  },
  "layer": [
    {
      "transform": [{"filter": "datum.series == 'g' || datum.series == 'y'"}],
      "mark": {"type": "line", "strokeWidth": 2, "clip": true},
      "encoding": {
        "color": {
          "field": "series",
          "type": "nominal",
          "scale": {"domain": ["g", "y"], "range": ["#73BF69", "#FADE2A"]},
          "legend": {
            "legendX": -115,
            "legendY": 1149,
            "labelExpr": "datum.label == 'g' ? 'Interface ae1.60(NETSKRT-CDN#2_StAustell): Bits received' : 'Interface ae1.60(NETSKRT-CDN#2_StAustell): Bits sent'"
          }
        }
      }
    },
    {
      "transform": [{"filter": "datum.series == 'b' || datum.series == 'o'"}],
      "mark": {"type": "line", "strokeWidth": 2, "clip": true},
      "encoding": {
        "color": {
          "field": "series",
          "type": "nominal",
          "scale": {"domain": ["b", "o"], "range": ["#8AB8FF", "#FF9830"]},
          "legend": {
            "legendX": -115,
            "legendY": 1192,
            "labelExpr": "datum.label == 'b' ? 'Interface ae1.60(NETSKRT-CDN#1_Exeter): Bits received' : 'Interface ae1.60(NETSKRT-CDN#1_Exeter): Bits sent'"
          }
        }
      }
    }
  ],
  "resolve": {"scale": {"color": "independent"}}
}
